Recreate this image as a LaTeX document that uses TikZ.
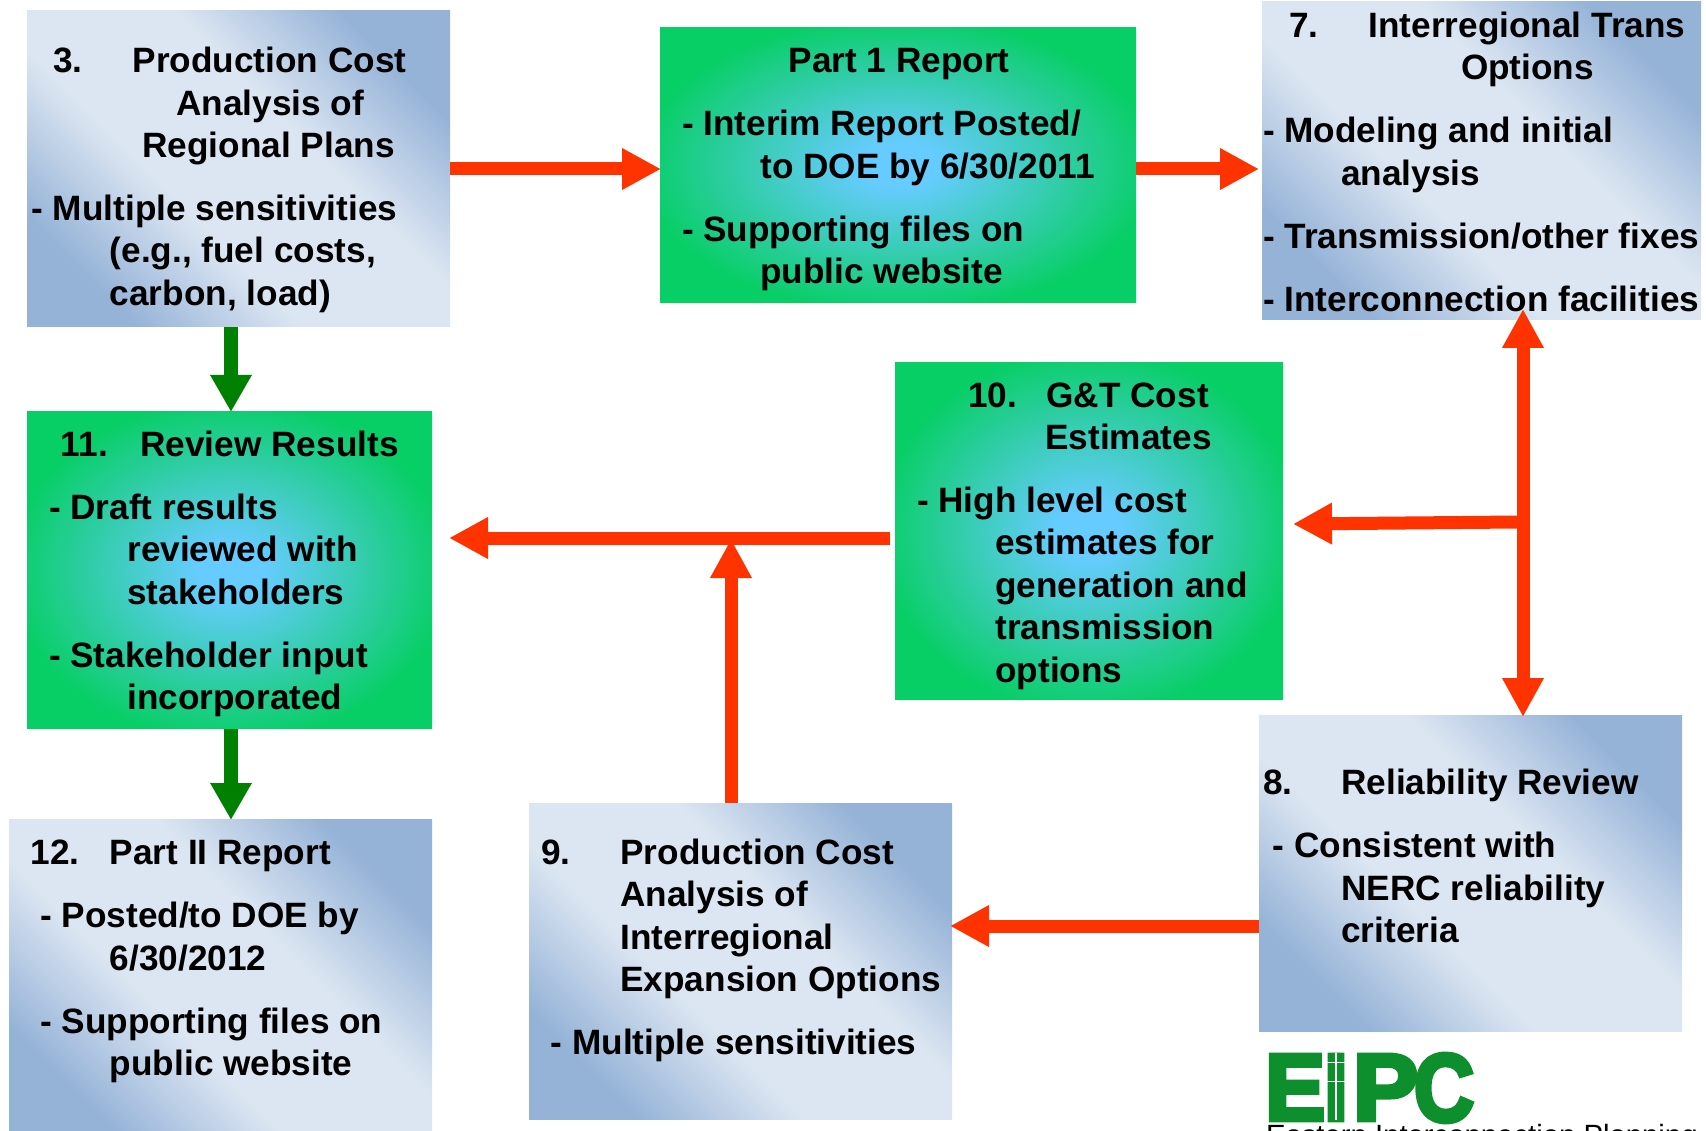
\documentclass[tikz,border=0pt]{standalone}
\usepackage{fontspec}
\usepackage{graphicx}
\setmainfont{Liberation Sans}
\newfontfamily\logofont[FakeBold=5]{Liberation Sans Bold}
\usetikzlibrary{arrows.meta,calc}
\definecolor{bluelight}{HTML}{DCE6F2}
\definecolor{bluedark}{HTML}{95B3D7}
\definecolor{greenedge}{HTML}{08CE66}
\definecolor{greencore}{HTML}{66CCFF}
\definecolor{redarrow}{HTML}{FF3300}
\definecolor{greenarrow}{HTML}{008000}
\definecolor{logogreen}{HTML}{0E8F2E}
\pgfdeclareradialshading{greenglow}{\pgfpointorigin}{color(0bp)=(greencore); color(4bp)=(greencore); color(27bp)=(greenedge); color(100bp)=(greenedge)}
\pgfdeclareverticalshading{bluesweep}{100bp}{color(0bp)=(bluedark); color(25bp)=(bluedark); color(41bp)=(bluelight); color(59bp)=(bluelight); color(75bp)=(bluedark); color(100bp)=(bluedark)}
\newcommand\Hs[1]{\hspace*{\dimexpr #1pt*1088/1000\relax}}
\newcommand\Lead[2]{\makebox[\dimexpr #1pt*1088/1000\relax][l]{#2}}
\tikzset{
  x=1pt,y=-1pt,
  boxbase/.style={anchor=north west,inner sep=0pt,outer sep=0pt},
  bluebox/.style={boxbase,shade,shading=bluesweep,shading angle=-45},
  greenbox/.style={boxbase,shade,shading=greenglow},
  txt/.style={anchor=north west,inner sep=0pt,outer sep=0pt,align=left,text=black,font=\fontsize{35.2}{42.4}\selectfont\bfseries},
  redline/.style={draw=redarrow,line width=13pt,-{Triangle[length=39pt,width=39pt]}},
  redboth/.style={draw=redarrow,line width=13pt,{Triangle[length=39pt,width=39pt]}-{Triangle[length=39pt,width=39pt]}},
  greenline/.style={draw=greenarrow,line width=14pt,-{Triangle[length=37pt,width=39pt]}},
  logoletter/.style={inner sep=0pt,outer sep=0pt,anchor=north west,text=logogreen,font=\logofont},
  logoword/.style={anchor=north west,inner sep=0pt,outer sep=0pt,text=black,font=\fontsize{29.3}{34}\selectfont},
}
\begin{document}
\begin{tikzpicture}
\useasboundingbox (0,0) rectangle (1706,1131);
\fill[white] (0,0) rectangle (1706,1131);
\begin{scope}
\clip (0,0) rectangle (1706,1131);
% boxes
\node[bluebox,minimum width=423pt,minimum height=316pt] (b3) at (27,11) {};
\node[greenbox,minimum width=476pt,minimum height=275pt] (b1) at (660,27.6) {};
\node[bluebox,minimum width=439pt,minimum height=318pt] (b7) at (1262,2) {};
\node[greenbox,minimum width=388pt,minimum height=337pt] (b10) at (895,362.6) {};
\node[greenbox,minimum width=405pt,minimum height=317pt] (b11) at (27,411.6) {};
\node[bluebox,minimum width=423pt,minimum height=317pt] (b12) at (9,819) {};
\node[bluebox,minimum width=423pt,minimum height=316pt] (b9) at (529,803) {};
\node[bluebox,minimum width=423pt,minimum height=316pt] (b8) at (1259,715) {};
% texts
\node[txt] (t3) at (31.5,43) {\strut\Hs{20}\Lead{73}{3.}Production Cost\\
  \Hs{133}Analysis of\\ \Hs{102}Regional Plans\\[20.6pt]
  - Multiple sensitivities\\ \Hs{72}(e.g., fuel costs,\\ \Hs{72}carbon, load)};
\node[txt] (t1) at (682,42.6) {\strut\Hs{98}Part 1 Report\\[21pt]
  - Interim Report Posted/\\ \Hs{72}to DOE by 6/30/2011\\[21pt]
  - Supporting files on\\ \Hs{72}public website};
\node[txt] (t7) at (1263,7.8) {\strut\Hs{24}\Lead{73}{7.}Interregional Trans\\
  \Hs{182}Options\\[20.6pt]
  - Modeling and initial\\ \Hs{72}analysis\\[20.6pt]
  - Transmission/other fixes\\[20.6pt]
  - Interconnection facilities};
\node[txt] (t10) at (917,377.5) {\strut\Hs{47}\Lead{72}{10.}G\&T Cost\\
  \Hs{118}Estimates\\[20.6pt]
  - High level cost\\ \Hs{72}estimates for\\ \Hs{72}generation and\\ \Hs{72}transmission\\ \Hs{72}options};
\node[txt] (t11) at (49,426.7) {\strut\Hs{11}\Lead{73}{11.}Review Results\\[20.6pt]
  - Draft results\\ \Hs{72}reviewed with\\ \Hs{72}stakeholders\\[20.6pt]
  - Stakeholder input\\ \Hs{72}incorporated};
\node[txt] (t12) at (30.5,834.7) {\strut\Lead{73}{12.}Part II Report\\[21pt]
  \Hs{9}- Posted/to DOE by\\ \Hs{73}6/30/2012\\[21pt]
  \Hs{9}- Supporting files on\\ \Hs{73}public website};
\node[txt] (t9) at (541,834.7) {\strut\Lead{73}{9.}Production Cost\\
  \Hs{73}Analysis of\\ \Hs{73}Interregional\\ \Hs{73}Expansion Options\\[20.6pt]
  \Hs{9}- Multiple sensitivities};
\node[txt] (t8) at (1263,765) {\strut\Lead{72}{8.}Reliability Review\\[20.6pt]
  \Hs{9}- Consistent with\\ \Hs{72}NERC reliability\\ \Hs{72}criteria};
% connector end points
\coordinate (c1a) at (450,169);
\coordinate (c1b) at (661,169);
\coordinate (c2a) at (1136,169);
\coordinate (c2b) at (1259,169);
\coordinate (c3) at (231,327);
\coordinate (c4) at (231,412);
\coordinate (c5) at (231,729);
\coordinate (c6) at (231,820);
\coordinate (c7a) at (890,538);
\coordinate (c7b) at (449,538);
\coordinate (c8a) at (731,803);
\coordinate (c8b) at (731,539);
\coordinate (c9a) at (1259,926);
\coordinate (c9b) at (950,926);
\coordinate (c10a) at (1523,309);
\coordinate (c10b) at (1523,717);
\coordinate (c11a) at (1518,522);
\coordinate (c11b) at (1293,524);
% connectors
\draw[redline] (c1a) -- (c1b);
\draw[redline] (c2a) -- (c2b);
\draw[greenline] (c3) -- (c4);
\draw[greenline] (c5) -- (c6);
\draw[redline] (c7a) -- (c7b);
\draw[redline] (c8a) -- (c8b);
\draw[redline] (c9a) -- (c9b);
\draw[redboth] (c10a) -- (c10b);
\draw[redline] (c11a) -- (c11b);
% logo
\node[logoletter] (le) at (1265,1055) {\resizebox{60pt}{65pt}{E}};
\node[logoletter] (li) at (1324,1055) {\resizebox{24pt}{65pt}{I}};
\node[logoletter] (lp) at (1353,1055) {\resizebox{65pt}{65pt}{P}};
\node[logoletter] (lc) at (1414,1054) {\resizebox{60pt}{67pt}{C}};
\draw[white,line width=1.6pt] (1336,1053) -- (1336,1120);
\draw[white,line width=1pt] (1327,1062) -- (1345,1062) (1325,1081) -- (1347,1081);
\node[logoword] (lw) at (1266,1124) {Eastern Interconnection Planning};
\end{scope}
\end{tikzpicture}
\end{document}
